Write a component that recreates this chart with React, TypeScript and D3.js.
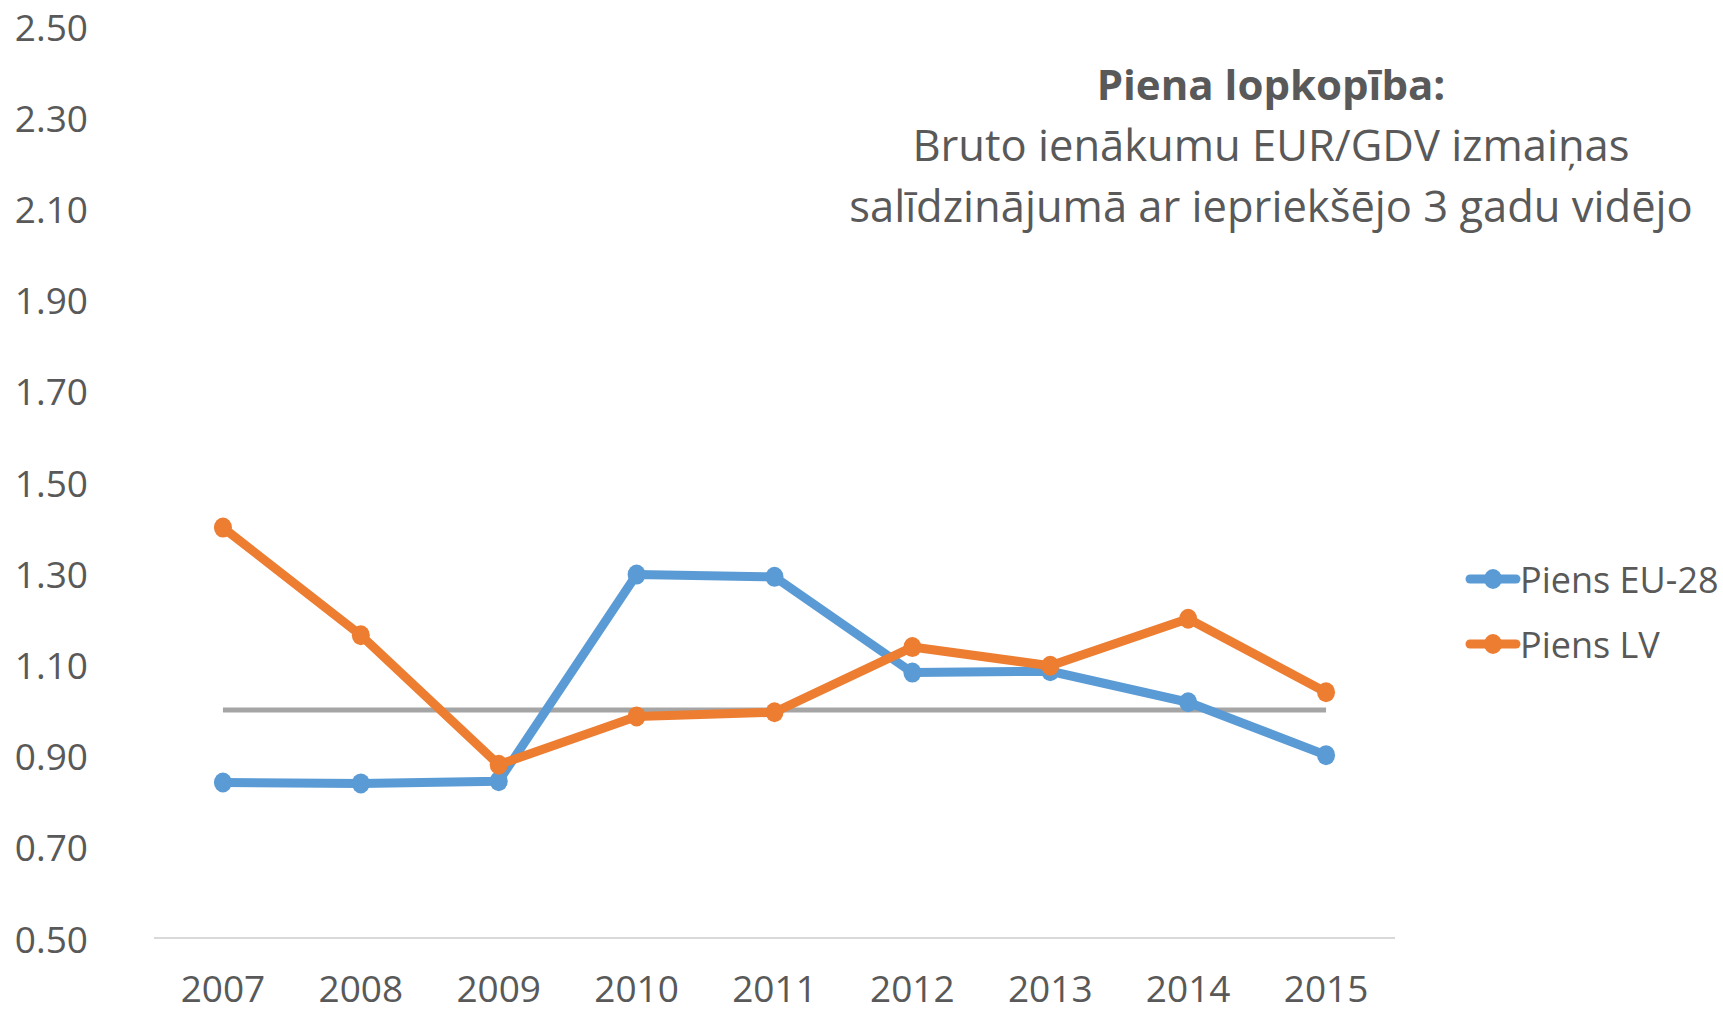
import React from "react";
import * as d3 from "d3";

const years = ["2007", "2008", "2009", "2010", "2011", "2012", "2013", "2014", "2015"];
const euValues = [0.841, 0.839, 0.844, 1.297, 1.292, 1.082, 1.085, 1.017, 0.901];
const lvValues = [1.4, 1.164, 0.88, 0.986, 0.995, 1.138, 1.097, 1.2, 1.039];
const baseline = [1, 1, 1, 1, 1, 1, 1, 1, 1];
const yTicks = [0.5, 0.7, 0.9, 1.1, 1.3, 1.5, 1.7, 1.9, 2.1, 2.3, 2.5];
const seriesNames = ["Piens EU-28", "Piens LV"];
const titleLines = [
  "Piena lopkopība:",
  "Bruto ienākumu EUR/GDV izmaiņas",
  "salīdzinājumā ar iepriekšējo 3 gadu vidējo",
];

const W = 1723;
const H = 1009;
const FONT = "'Open Sans', sans-serif";
const TXT = "#595959";
const BLUE = "#5B9BD5";
const ORANGE = "#ED7D31";
const GREY = "#A5A5A5";

export default function App() {
  const x = d3.scalePoint<string>().domain(years).range([154, 1395]).padding(0.5);
  const y = d3.scaleLinear().domain([0.5, 2.5]).range([938, 26]);
  const line = d3
    .line<number>()
    .x((_, i) => x(years[i]) as number)
    .y((d) => y(d));

  const series = [
    { name: seriesNames[0], values: euValues, color: BLUE },
    { name: seriesNames[1], values: lvValues, color: ORANGE },
  ];

  return (
    <svg
      width={W}
      height={H}
      style={{ position: "absolute", left: 0, top: 0, background: "#fff" }}
      fontFamily={FONT}
    >
      <rect x={0} y={0} width={W} height={H} fill="#fff" />
      {/* y tick labels */}
      {yTicks.map((t) => (
        <text
          key={t}
          x={88}
          y={y(t)}
          textAnchor="end"
          dominantBaseline="central"
          fontSize={37}
          fill={TXT}
        >
          {t.toFixed(2)}
        </text>
      ))}
      {/* x axis line */}
      <line x1={154} x2={1395} y1={y(0.5)} y2={y(0.5)} stroke="#D9D9D9" strokeWidth={2} />
      {years.map((yr) => (
        <text
          key={yr}
          x={x(yr)}
          y={987}
          textAnchor="middle"
          dominantBaseline="central"
          fontSize={37}
          fill={TXT}
        >
          {yr}
        </text>
      ))}
      {/* baseline */}
      <path d={line(baseline) || ""} fill="none" stroke={GREY} strokeWidth={5} />
      {series.map((s) => (
        <g key={s.name}>
          <path
            d={line(s.values) || ""}
            fill="none"
            stroke={s.color}
            strokeWidth={9}
            strokeLinejoin="round"
          />
          {s.values.map((v, i) => (
            <ellipse
              key={i}
              cx={x(years[i])}
              cy={y(v)}
              rx={9}
              ry={10}
              fill={s.color}
            />
          ))}
        </g>
      ))}
      {/* title */}
      <text x={1271} textAnchor="middle" fill={TXT}>
        <tspan x={1271} y={100} fontWeight="bold" fontSize={42}>
          {titleLines[0]}
        </tspan>
        <tspan x={1271} y={161} fontSize={43.5}>
          {titleLines[1]}
        </tspan>
        <tspan x={1271} y={222} fontSize={43.5}>
          {titleLines[2]}
        </tspan>
      </text>
      {/* legend */}
      {series.map((s, i) => {
        const ly = 579 + i * 65;
        return (
          <g key={s.name}>
            <line
              x1={1470}
              x2={1516}
              y1={ly}
              y2={ly}
              stroke={s.color}
              strokeWidth={9}
              strokeLinecap="round"
            />
            <ellipse cx={1493} cy={ly} rx={9} ry={10} fill={s.color} />
            <text
              x={1520}
              y={ly}
              dominantBaseline="central"
              fontSize={36}
              fill={TXT}
            >
              {s.name}
            </text>
          </g>
        );
      })}
    </svg>
  );
}
